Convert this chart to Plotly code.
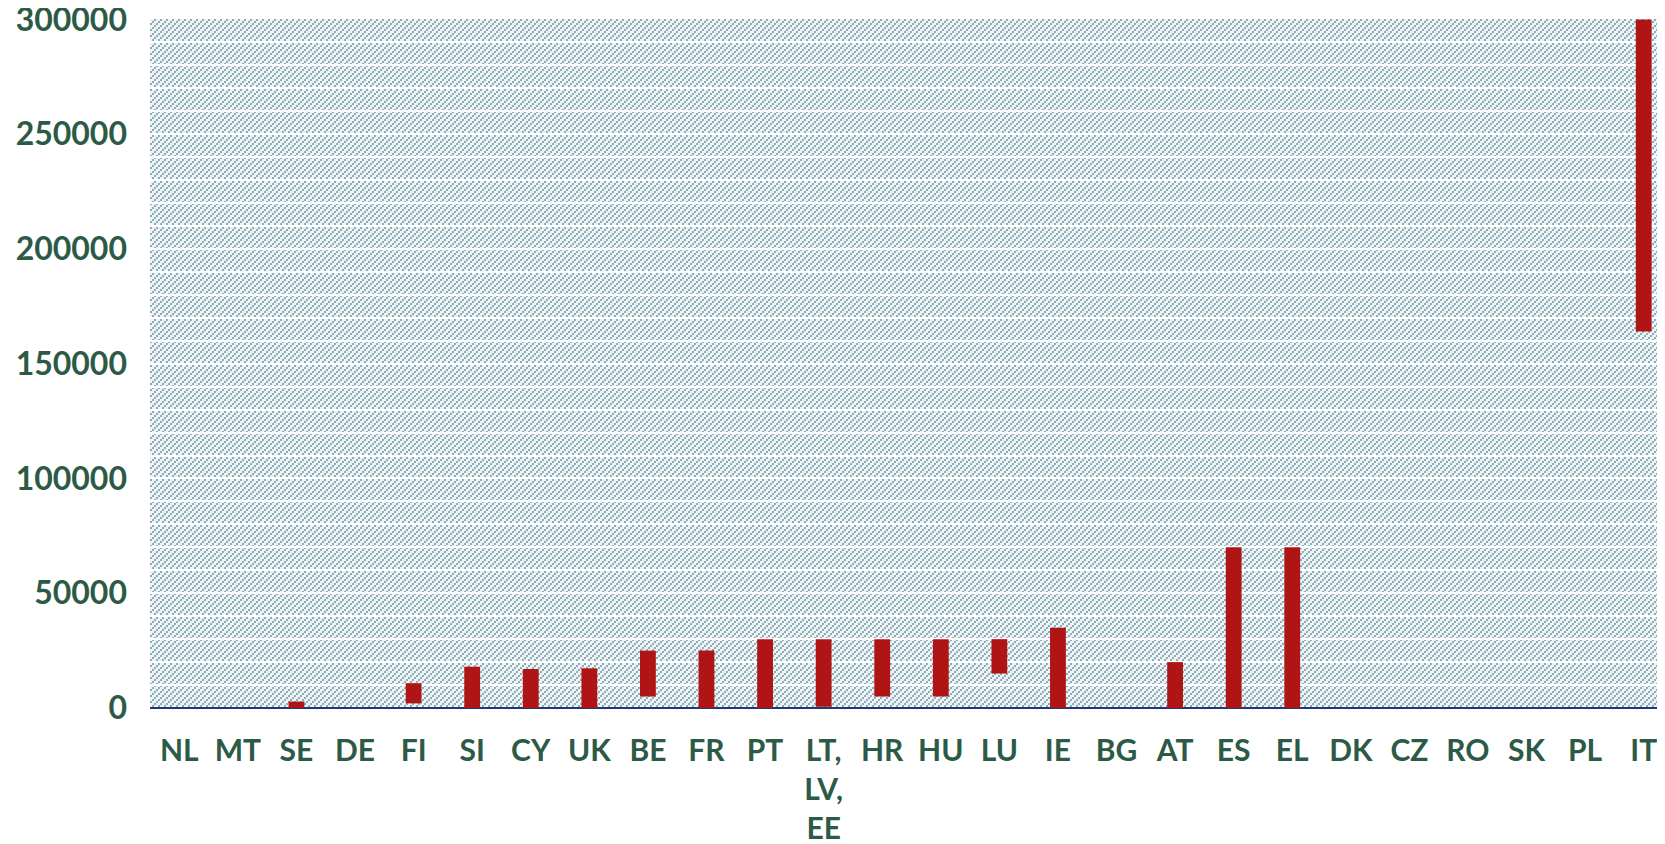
import base64
import plotly.graph_objects as go

# ---- data ----
countries = ["NL", "MT", "SE", "DE", "FI", "SI", "CY", "UK", "BE", "FR", "PT",
             "LT,<br>LV,<br>EE", "HR", "HU", "LU", "IE", "BG", "AT", "ES", "EL",
             "DK", "CZ", "RO", "SK", "PL", "IT"]
range_low = [None, None, 0, None, 2000, 0, 0, 0, 5000, 0, 0,
             500, 5000, 5000, 15000, 0, None, 0, 0, 0,
             None, None, None, None, None, 164000]
range_high = [None, None, 2800, None, 10800, 18000, 17000, 17300, 25000, 25000, 30000,
              30000, 30000, 30000, 30000, 35000, None, 20000, 70000, 70000,
              None, None, None, None, None, 300000]
y_ticks = [0, 50000, 100000, 150000, 200000, 250000, 300000]

span = [None if lo is None else hi - lo for lo, hi in zip(range_low, range_high)]

# ---- style ----
W, H = 1665, 844
ML, MR, MT, MB = 142, 0, 11, 144
PW, PH = W - ML - MR, H - MT - MB
TEXT = "#2d5a46"
BAR = "#b01515"

svg = (
    f'<svg xmlns="http://www.w3.org/2000/svg" width="{PW}" height="{PH}" '
    f'viewBox="0 0 {PW} {PH}" shape-rendering="crispEdges">'
    '<defs><pattern id="p" width="6" height="6" patternUnits="userSpaceOnUse">'
    '<rect width="6" height="6" fill="#f1f3f3"/>'
    '<rect x="0" y="4" width="2" height="2" fill="#88adbf"/>'
    '<rect x="2" y="2" width="2" height="2" fill="#88adbf"/>'
    '<rect x="4" y="0" width="2" height="2" fill="#88adbf"/>'
    '</pattern></defs>'
    f'<rect width="{PW}" height="{PH}" fill="url(#p)"/></svg>'
)
svg_uri = "data:image/svg+xml;base64," + base64.b64encode(svg.encode()).decode()

fig = go.Figure()
fig.add_trace(go.Bar(
    x=countries, y=span, base=range_low,
    width=0.27,
    marker=dict(color=BAR, line=dict(width=0)),
    hoverinfo="skip",
))

fig.update_layout(
    width=W, height=H,
    margin=dict(l=ML, r=MR, t=MT, b=MB, pad=0, autoexpand=False),
    paper_bgcolor="white",
    plot_bgcolor="rgba(0,0,0,0)",
    showlegend=False,
    font=dict(family="Lato", size=32, color=TEXT, weight="bold"),
    images=[dict(source=svg_uri, xref="paper", yref="paper", x=0, y=1,
                 sizex=1, sizey=1, xanchor="left", yanchor="top",
                 sizing="stretch", layer="below")],
)
fig.update_xaxes(
    type="category",
    range=[-0.5, 25.5],
    automargin=False,
    showgrid=False, showline=False, zeroline=False,
    ticks="", ticklabelstandoff=22, ticklabeloverflow="allow",
    tickfont=dict(family="Lato", size=30, color=TEXT, weight="bold"),
    fixedrange=True,
)
fig.update_yaxes(
    range=[0, 300200],
    automargin=False,
    tickvals=y_ticks,
    ticktext=[str(v) for v in y_ticks],
    showgrid=True, gridcolor="white", gridwidth=2,
    minor=dict(dtick=10000, showgrid=True, gridcolor="white", gridwidth=2),
    zeroline=True, zerolinecolor="#1f3a78", zerolinewidth=2,
    showline=False, ticks="", ticklabelstandoff=22, ticklabeloverflow="allow",
    tickfont=dict(family="Lato", size=32, color=TEXT, weight="bold"),
    fixedrange=True,
)

fig.write_html("out.html")
